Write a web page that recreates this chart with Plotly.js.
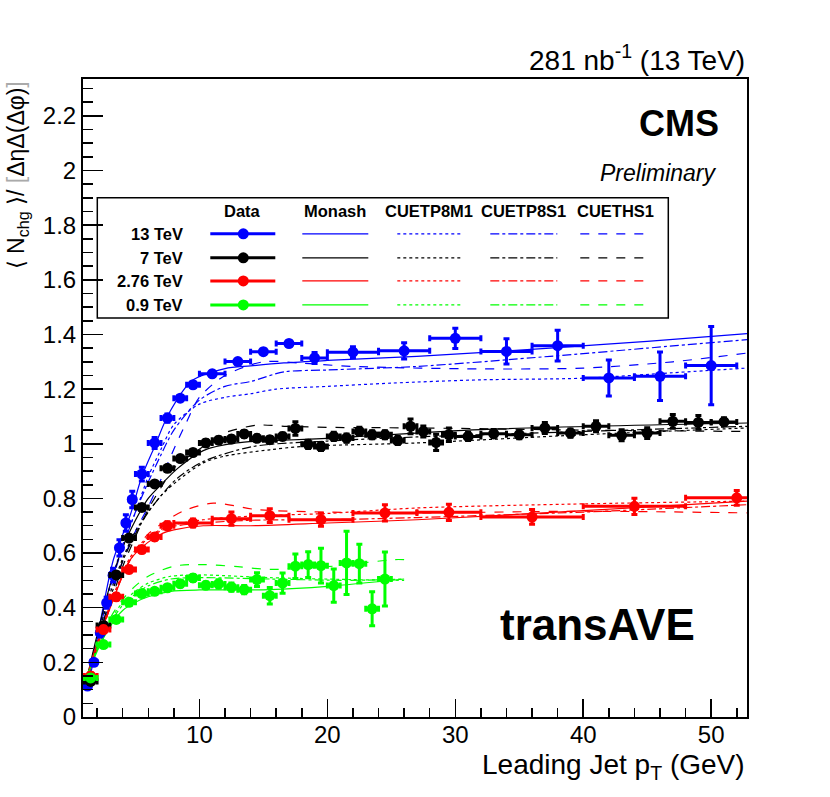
<!DOCTYPE html>
<html>
<head>
<meta charset="utf-8">
<script src="https://cdn.plot.ly/plotly-3.0.1.min.js"></script>
<style>body{margin:0;background:#fff}</style>
</head>
<body>
<div id="graph01" style="width:830px;height:797px"></div>
<script>
// Data points (leading jet pT bin centres, half widths, values, errors)
var pt13 = [1.25,1.75,2.25,2.75,3.25,3.75,4.25,4.75,5.5,6.5,7.5,8.5,9.5,11,13,15,17,19,22,26,30,34,38,42,46,50];
var ptErr13 = [0.25,0.25,0.25,0.25,0.25,0.25,0.25,0.25,0.5,0.5,0.5,0.5,0.5,1,1,1,1,1,2,2,2,2,2,2,2,2];
var n13 = [0.113,0.200,0.308,0.418,0.519,0.619,0.710,0.796,0.889,1.003,1.094,1.167,1.216,1.256,1.301,1.337,1.367,1.314,1.335,1.340,1.386,1.338,1.359,1.241,1.247,1.286];
var nErr13 = [0.01,0.01,0.015,0.02,0.025,0.03,0.03,0.03,0.025,0.02,0.015,0.01,0.01,0.01,0.01,0.01,0.01,0.02,0.02,0.03,0.037,0.046,0.056,0.066,0.089,0.143];

var pt7 = [1.5,2.5,3.5,4.5,5.5,6.5,7.5,8.5,9.5,10.5,11.5,12.5,13.5,14.5,15.5,16.5,17.5,18.5,19.5,20.5,21.5,22.5,23.5,24.5,25.5,26.5,27.5,28.5,29.5,31,33,35,37,39,41,43,45,47,49,51];
var ptErr7 = [0.5,0.5,0.5,0.5,0.5,0.5,0.5,0.5,0.5,0.5,0.5,0.5,0.5,0.5,0.5,0.5,0.5,0.5,0.5,0.5,0.5,0.5,0.5,0.5,0.5,0.5,0.5,0.5,0.5,1,1,1,1,1,1,1,1,1,1,1];
var n7 = [0.13,0.335,0.52,0.655,0.767,0.853,0.91,0.946,0.968,1.003,1.013,1.017,1.036,1.02,1.015,1.027,1.056,0.998,0.99,1.027,1.021,1.045,1.033,1.033,1.012,1.064,1.045,1.005,1.033,1.027,1.037,1.033,1.058,1.039,1.064,1.031,1.039,1.082,1.078,1.080];
var nErr7 = [0.01,0.01,0.01,0.01,0.01,0.01,0.01,0.01,0.01,0.012,0.012,0.012,0.012,0.012,0.012,0.012,0.025,0.015,0.015,0.015,0.015,0.015,0.015,0.015,0.015,0.027,0.02,0.03,0.025,0.015,0.015,0.015,0.02,0.015,0.02,0.02,0.02,0.025,0.025,0.015];

var pt276 = [1.5,2.5,3.5,4.5,5.5,6.5,7.5,9.5,12.5,15.5,19.5,24.5,29.5,36,44,52];
var ptErr276 = [0.5,0.5,0.5,0.5,0.5,0.5,0.5,1.5,1.5,1.5,2.5,2.5,2.5,4,4,4];
var n276 = [0.15,0.32,0.44,0.54,0.613,0.659,0.70,0.71,0.726,0.737,0.722,0.747,0.749,0.732,0.771,0.802];
var nErr276 = [0.012,0.012,0.012,0.012,0.012,0.012,0.015,0.015,0.024,0.025,0.024,0.03,0.03,0.027,0.03,0.027];

var pt09 = [1.5,2.5,3.5,4.5,5.5,6.5,7.5,8.5,9.5,10.5,11.5,12.5,13.5,14.5,15.5,16.5,17.5,18.5,19.5,20.5,21.5,22.5,23.5,24.5];
var ptErr09 = [0.5,0.5,0.5,0.5,0.5,0.5,0.5,0.5,0.5,0.5,0.5,0.5,0.5,0.5,0.5,0.5,0.5,0.5,0.5,0.5,0.5,0.5,0.5,0.5];
var n09 = [0.143,0.265,0.357,0.42,0.452,0.46,0.473,0.488,0.509,0.482,0.487,0.475,0.466,0.503,0.444,0.49,0.552,0.558,0.554,0.481,0.564,0.561,0.396,0.505];
var nErr09 = [0.01,0.01,0.01,0.01,0.01,0.01,0.01,0.012,0.012,0.012,0.015,0.015,0.015,0.025,0.03,0.037,0.045,0.047,0.064,0.061,0.116,0.071,0.062,0.099];

// MC predictions, 13 TeV
var ptMonash13 = [1,1.5,2.3,3.3,4.6,5.5,6.5,7.6,9.4,12,14,16.6,20,27,37.4,45,52.8];
var yMonash13 = [0.10,0.16,0.36,0.58,0.74,0.88,0.99,1.11,1.23,1.275,1.285,1.296,1.305,1.32,1.35,1.375,1.403];
var ptP8M1_13 = [1,2,3,4,5,6,7,8,10,12,14,16,20,25,32,40,47,52.8];
var yP8M1_13 = [0.10,0.29,0.48,0.63,0.75,0.88,0.98,1.07,1.145,1.17,1.183,1.20,1.21,1.222,1.234,1.24,1.26,1.277];
var ptP8S1_13 = [1,2,3,4,5,6,7,8,10,12,14,16.6,20,27,37.4,45,52.8];
var yP8S1_13 = [0.10,0.28,0.47,0.62,0.75,0.86,0.96,1.05,1.16,1.21,1.228,1.263,1.27,1.283,1.32,1.35,1.381];
var ptHS1_13 = [1,2,3,4,5,6,7,8,9,10,12,15,18,22,32,40,47,52.8];
var yHS1_13 = [0.10,0.26,0.43,0.57,0.68,0.77,0.87,0.98,1.08,1.17,1.25,1.30,1.295,1.283,1.274,1.277,1.30,1.332];

// 7 TeV
var ptMonash7 = [1,2,3,4,5,6,7,8.3,10.3,12.9,16,20,32,52.8];
var yMonash7 = [0.10,0.30,0.48,0.62,0.72,0.80,0.85,0.91,0.975,1.003,1.012,1.02,1.052,1.076];
var ptP8M1_7 = [1,2,3,4,5,6,7,8.3,10.3,12,15.5,18,27,40,52.8];
var yP8M1_7 = [0.10,0.28,0.45,0.58,0.68,0.75,0.81,0.865,0.93,0.955,0.978,0.99,1.003,1.033,1.058];
var ptP8S1_7 = [1,2,3,4,5,6,7,8.3,10.3,14.2,20,27,40,52.8];
var yP8S1_7 = [0.10,0.27,0.43,0.57,0.67,0.75,0.81,0.875,0.935,0.99,1.01,1.025,1.045,1.064];
var ptHS1_7 = [1,2,3,4,5,6,7,8,10.3,12,14.5,16.8,20,27,40,52.8];
var yHS1_7 = [0.10,0.26,0.41,0.55,0.66,0.76,0.84,0.91,0.99,1.04,1.068,1.064,1.06,1.058,1.05,1.045];

// 2.76 TeV
var ptMonash276 = [1,1.76,3.07,4.6,6,7.2,8,10.3,14,20,27,40,52.8];
var yMonash276 = [0.11,0.235,0.405,0.576,0.64,0.674,0.685,0.70,0.70,0.71,0.722,0.755,0.79];
var ptP8M1_276 = [1,2,3,4.6,6,7.75,10.3,14,20,27,40,52.8];
var yP8M1_276 = [0.11,0.26,0.41,0.585,0.66,0.70,0.722,0.735,0.745,0.765,0.78,0.79];
var ptP8S1_276 = [1,2,3,4.6,6,7.75,10.3,14,20,27,40,52.8];
var yP8S1_276 = [0.11,0.25,0.40,0.575,0.655,0.695,0.71,0.72,0.722,0.73,0.75,0.777];
var ptHS1_276 = [1,2,3,4,5,6,7.75,9,11.1,14.5,20,27,40,52.8];
var yHS1_276 = [0.11,0.25,0.40,0.52,0.61,0.67,0.729,0.759,0.783,0.759,0.75,0.747,0.753,0.747];

// 0.9 TeV
var ptMonash09 = [1,2,3,4,5,6,7.75,10,12,15.5,20,26];
var yMonash09 = [0.12,0.24,0.33,0.39,0.42,0.44,0.46,0.465,0.465,0.466,0.478,0.505];
var ptP8M1_09 = [1,2,3,4,5,6,7.75,10,15.5,21.8,26];
var yP8M1_09 = [0.12,0.25,0.35,0.42,0.46,0.49,0.515,0.52,0.51,0.503,0.50];
var ptP8S1_09 = [1,2,3,4,5,6,7.75,10,15.5,21.8,26];
var yP8S1_09 = [0.12,0.25,0.34,0.41,0.45,0.48,0.505,0.51,0.505,0.50,0.505];
var ptHS1_09 = [1,2,3,4,5,6,8,10.3,13,15.5,20,25.2,26];
var yHS1_09 = [0.12,0.25,0.36,0.43,0.48,0.515,0.552,0.558,0.55,0.54,0.55,0.576,0.576];

var energies = ['13 TeV', '7 TeV', '2.76 TeV', '0.9 TeV'];
var tunes = ['Monash', 'CUETP8M1', 'CUETP8S1', 'CUETHS1'];
var colors = ['#0000ff', '#000000', '#ff0000', '#00ff00'];
var dashes = ['solid', 'dot', 'dashdot', 'dash'];

var curves = [
  [[ptMonash13, yMonash13], [ptP8M1_13, yP8M1_13], [ptP8S1_13, yP8S1_13], [ptHS1_13, yHS1_13]],
  [[ptMonash7, yMonash7], [ptP8M1_7, yP8M1_7], [ptP8S1_7, yP8S1_7], [ptHS1_7, yHS1_7]],
  [[ptMonash276, yMonash276], [ptP8M1_276, yP8M1_276], [ptP8S1_276, yP8S1_276], [ptHS1_276, yHS1_276]],
  [[ptMonash09, yMonash09], [ptP8M1_09, yP8M1_09], [ptP8S1_09, yP8S1_09], [ptHS1_09, yHS1_09]]
];
var points = [
  [pt13, ptErr13, n13, nErr13],
  [pt7, ptErr7, n7, nErr7],
  [pt276, ptErr276, n276, nErr276],
  [pt09, ptErr09, n09, nErr09]
];

var data = [];
for (var e = 0; e < 4; e++) {
  for (var t = 0; t < 4; t++) {
    data.push({
      x: curves[e][t][0], y: curves[e][t][1],
      mode: 'lines', type: 'scatter', name: energies[e] + ' ' + tunes[t],
      line: {color: colors[e], width: 1.2, dash: dashes[t], shape: 'spline', smoothing: 0.8},
      hoverinfo: 'skip'
    });
  }
}
for (var e = 0; e < 4; e++) {
  data.push({
    x: points[e][0], y: points[e][2],
    mode: 'markers', type: 'scatter', name: energies[e] + ' Data',
    marker: {color: colors[e], size: 11, symbol: 'circle'},
    error_x: {type: 'data', array: points[e][1], color: colors[e], thickness: 3, width: 3},
    error_y: {type: 'data', array: points[e][3], color: colors[e], thickness: 3, width: 3}
  });
}

// legend table drawn in paper coordinates
function px(v) { return (v - 82.7) / 664; }
function py(v) { return (716.7 - v) / 637.4; }
var font = 'Liberation Sans, Arial, Helvetica, sans-serif';
var shapes = [{type: 'rect', xref: 'paper', yref: 'paper', x0: px(97), x1: px(668), y0: py(318), y1: py(198), line: {color: 'black', width: 1.5}}];
var annotations = [];
var colX = [[210, 275], [302, 368], [397, 460], [490, 557], [580, 650]];
var colHead = ['Data'].concat(tunes);
var rowY = [234, 258, 281, 305];
for (var c = 0; c < 5; c++) {
  annotations.push({xref: 'paper', yref: 'paper', x: px((colX[c][0] + colX[c][1]) / 2), y: py(211), text: '<b>' + colHead[c] + '</b>', showarrow: false, font: {size: 16.5, family: font}, xanchor: 'center', yanchor: 'middle'});
}
for (var r = 0; r < 4; r++) {
  annotations.push({xref: 'paper', yref: 'paper', x: px(185), y: py(rowY[r]), text: '<b>' + energies[r] + '</b>', showarrow: false, font: {size: 16.5, family: font}, xanchor: 'right', yanchor: 'middle'});
  shapes.push({type: 'line', xref: 'paper', yref: 'paper', x0: px(colX[0][0]), x1: px(colX[0][1]), y0: py(rowY[r]), y1: py(rowY[r]), line: {color: colors[r], width: 3}});
  shapes.push({type: 'circle', xref: 'paper', yref: 'paper', xsizemode: 'pixel', ysizemode: 'pixel', xanchor: px(243), yanchor: py(rowY[r]), x0: -5.5, x1: 5.5, y0: -5.5, y1: 5.5, fillcolor: colors[r], line: {width: 0}});
  for (var t = 0; t < 4; t++) {
    shapes.push({type: 'line', xref: 'paper', yref: 'paper', x0: px(colX[t + 1][0]), x1: px(colX[t + 1][1]), y0: py(rowY[r]), y1: py(rowY[r]), line: {color: colors[r], width: 1.2, dash: dashes[t]}});
  }
}

annotations.push(
  {xref: 'paper', yref: 'paper', x: 1, y: py(58), text: '281 nb<sup>-1</sup> (13 TeV)', showarrow: false, xanchor: 'right', yanchor: 'middle', font: {size: 28, family: font}},
  {xref: 'paper', yref: 'paper', x: px(721), y: py(124), text: '<b>CMS</b>', showarrow: false, xanchor: 'right', yanchor: 'middle', font: {size: 36, family: font}},
  {xref: 'paper', yref: 'paper', x: px(719), y: py(173), text: '<i>Preliminary</i>', showarrow: false, xanchor: 'right', yanchor: 'middle', font: {size: 23, family: font}},
  {xref: 'paper', yref: 'paper', x: px(597), y: py(624), text: '<b>transAVE</b>', showarrow: false, xanchor: 'center', yanchor: 'middle', font: {size: 44, family: font}},
  {xref: 'paper', yref: 'paper', x: 1, y: py(766), text: 'Leading Jet p<sub>T</sub> (GeV)', showarrow: false, xanchor: 'right', yanchor: 'middle', font: {size: 28, family: font}},
  {xref: 'paper', yref: 'paper', x: px(17), y: 1, text: '⟨ N<sub>chg</sub> ⟩/ <span style="color:#aaaaaa">[</span>ΔηΔ(Δφ)<span style="color:#aaaaaa">]</span>', showarrow: false, textangle: -90, xanchor: 'center', yanchor: 'top', font: {size: 23, family: font}}
);

var layout = {
  width: 830, height: 797,
  margin: {l: 83, r: 83, t: 79, b: 80},
  paper_bgcolor: 'white', plot_bgcolor: 'white',
  showlegend: false,
  font: {family: font, color: 'black'},
  xaxis: {
    range: [0.9, 52.8], dtick: 10, tick0: 0, ticks: 'inside', ticklen: 18, tickwidth: 1.5, tickcolor: 'black',
    minor: {dtick: 2, tick0: 0, ticks: 'inside', ticklen: 9, tickwidth: 1.5, tickcolor: 'black'},
    showline: true, mirror: true, linewidth: 2, linecolor: 'black', showgrid: false, zeroline: false,
    tickfont: {size: 24, family: font}, ticklabelstandoff: -5
  },
  yaxis: {
    range: [0, 2.335], dtick: 0.2, tick0: 0, ticks: 'inside', ticklen: 20, tickwidth: 1.5, tickcolor: 'black',
    minor: {dtick: 0.05, tick0: 0, ticks: 'inside', ticklen: 10, tickwidth: 1.5, tickcolor: 'black'},
    showline: true, mirror: true, linewidth: 2, linecolor: 'black', showgrid: false, zeroline: false,
    tickfont: {size: 24, family: font}
  },
  shapes: shapes,
  annotations: annotations
};

Plotly.newPlot('graph01', data, layout, {displayModeBar: false, staticPlot: true});
</script>
</body>
</html>
